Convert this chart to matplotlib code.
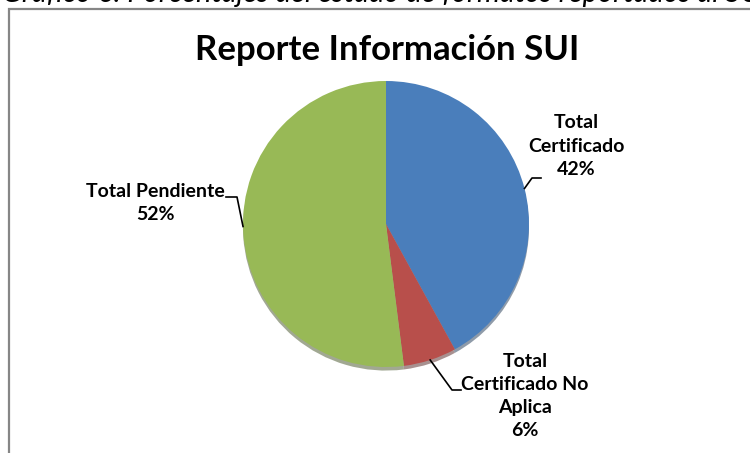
import numpy as np
import matplotlib
matplotlib.use("Agg")
import matplotlib.pyplot as plt
from matplotlib.patches import Rectangle

# datos
categorias = ["Total Certificado", "Total Certificado No Aplica", "Total Pendiente"]
etiquetas = ["Total\nCertificado\n42%", "Total\nCertificado No\nAplica\n6%", "Total Pendiente\n52%"]
valores = [42, 6, 52]
colores = ["#4a7ebb", "#b84f4b", "#98b956"]
titulo = "Reporte Información SUI"
leyenda_sup = "Gráfico 6. Porcentajes del estado de formatos reportados al SUI"

W, H = 750, 453
fig = plt.figure(figsize=(W / 100, H / 100), dpi=100)
plt.rcParams['font.family'] = ['Lato', 'DejaVu Sans']

def fx(px):
    return px / W

def fy(py):
    return 1 - py / H

# recuadro del grafico
fig.patches.append(Rectangle((fx(9), fy(470)), fx(800), 461 / H, transform=fig.transFigure,
                             fill=False, edgecolor="#868686", linewidth=1.6))

# leyenda cortada arriba (en el original solo se ve la parte baja)
fig.text(fx(2), fy(2), leyenda_sup, fontsize=21, style="italic", va="baseline", ha="left")

fig.text(fx(387), fy(50), titulo, fontsize=25, fontweight="bold", ha="center", va="center")

# pie
cx, cy, r = 386, 224, 143
ax = fig.add_axes([fx(cx - r), fy(cy + r), 2 * r / W, 2 * r / H])
wedges, _ = ax.pie(valores, colors=colores, startangle=90, counterclock=False, radius=1,
                   shadow=dict(ox=0.0, oy=-0.018, shade=0.55),
                   wedgeprops=dict(linewidth=0))
ax.set_xlim(-1, 1)
ax.set_ylim(-1, 1)
ax.set_aspect("equal")
ax.axis("off")

# posiciones de las etiquetas (px) y angulo de la guia
pos_txt = [(576, 146), (525, 396), (155, 203)]
ang_override = [None, None, 181]
guia = [[(541, 178), (532, 178)], [(461, 390), (452, 390)], [(226, 197), (237, 197)]]

for w, lab, (tx, ty), ao, g in zip(wedges, etiquetas, pos_txt, ang_override, guia):
    ang = (w.theta1 + w.theta2) / 2 if ao is None else ao
    ex = cx + r * np.cos(np.deg2rad(ang))
    ey = cy - r * np.sin(np.deg2rad(ang))
    fig.text(fx(tx), fy(ty), lab, fontsize=14, fontweight="bold", ha="center", va="center",
             linespacing=1.45)
    xs = [g[0][0], g[1][0], ex]
    ys = [g[0][1], g[1][1], ey]
    fig.add_artist(plt.Line2D([fx(v) for v in xs], [fy(v) for v in ys], color="black",
                              linewidth=1.2, transform=fig.transFigure))

fig.savefig("out.png", dpi=100, facecolor="white")
